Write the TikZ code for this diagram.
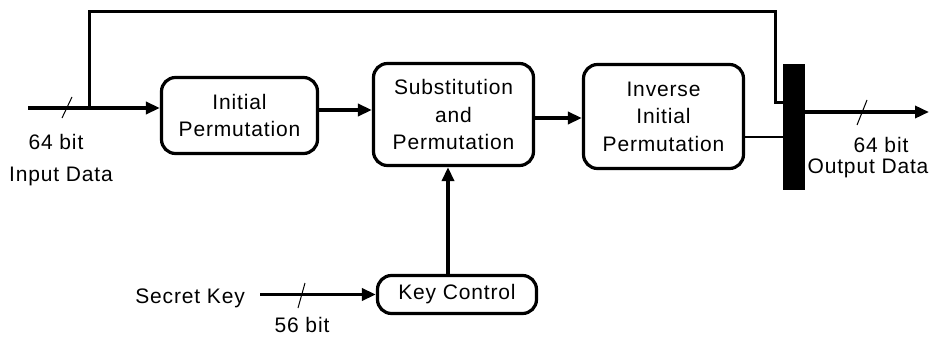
\documentclass[tikz,border=0pt]{standalone}
\usepackage{fontspec}
\setmainfont{Liberation Sans}[LetterSpace=4]
\usetikzlibrary{arrows.meta,positioning}

\begin{document}
\begin{tikzpicture}[x=1pt,y=-1pt,
  every node/.style={font=\fontsize{21}{27.5}\selectfont},
  blk/.style={draw,line width=3.2pt,rounded corners=14pt,align=center,inner sep=0pt},
  lbl/.style={inner sep=0pt,anchor=base},
  wire/.style={line width=3.4pt},
  arr/.style={line width=3.4pt,-{Triangle[length=14pt,width=12pt]}},
  tick/.style={line width=1pt}]
\useasboundingbox (0,0) rectangle (931,337);
% blocks
\node[blk,minimum width=156pt,minimum height=76pt] (ip) at (239.5,115.5) {Initial\\Permutation};
\node[blk,minimum width=160pt,minimum height=102pt] (sp) at (453.5,114.5) {Substitution\\and\\Permutation};
\node[blk,minimum width=160pt,minimum height=104pt] (iip) at (663.5,116.5) {Inverse\\Initial\\Permutation};
\node[blk,minimum width=159pt,minimum height=38pt] (kc) at (457,294.5) {Key Control};
\node[fill,inner sep=0pt,minimum width=22pt,minimum height=126pt] (bar) at (794,127) {};
% free ends
\coordinate (in) at (28,108);
\coordinate (br) at (89,108);
\coordinate (fbtop) at (775,12);
\coordinate (fbin) at (783,102);
\coordinate (out) at (929,112);
% data path
\draw[wire] (in) -- (br);
\draw[arr] (br) -- (br -| ip.west);
\draw[wire,line width=3pt] (br) |- (fbtop) |- (fbin);
\draw[arr] ([yshift=5.5pt]ip.east) -- ([yshift=5.5pt]ip.east -| sp.west);
\draw[arr] ([yshift=-3.5pt]sp.east) -- ([yshift=-3.5pt]sp.east -| iip.west);
\draw[wire,line width=2.8pt] ([yshift=-20.5pt]iip.east) -- ([yshift=-20.5pt]iip.east -| bar.west);
\draw[arr] (bar.east |- out) -- (out);
% key path
\node[lbl,anchor=base east] (sk) at (245,303) {Secret Key};
\draw[arr] ([xshift=15pt]sk.east |- kc.west) -- (kc.west);
\draw[arr] ([xshift=-9pt]kc.north) -- ([xshift=-9pt]kc.north |- sp.south);
% bus widths
\draw[tick] (62,118) -- (72,97);
\draw[tick] (857,125) -- (867,100);
\draw[tick] (298,308) -- (305,283);
\node[lbl] (inbits) at (56,149) {64 bit};
\node[lbl] (indata) at (61,181) {Input Data};
\node[lbl] (outbits) at (881,152) {64 bit};
\node[lbl] (outdata) at (868,173) {Output Data};
\node[lbl] (keybits) at (302,332) {56 bit};
\end{tikzpicture}
\end{document}
